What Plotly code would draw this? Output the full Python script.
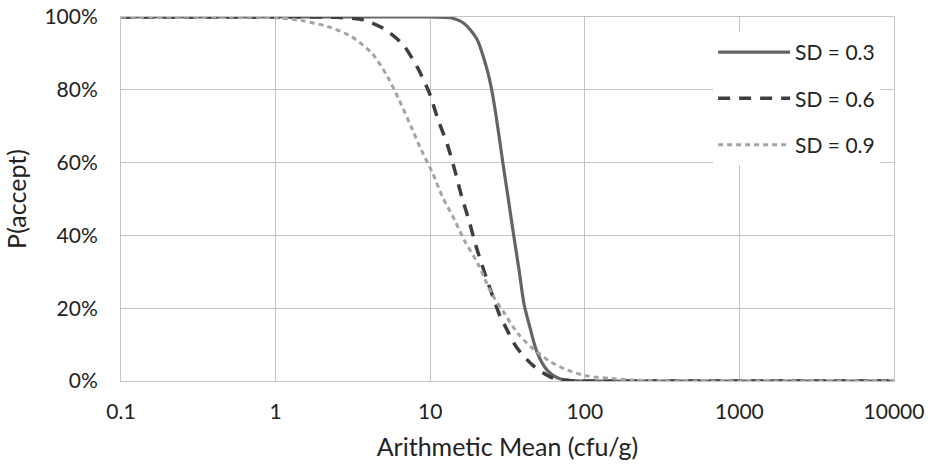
import plotly.graph_objects as go

# Arithmetic mean (cfu/g) and P(accept) in %
x_sd03 = [0.1, 1, 10, 13.5, 16.5, 20, 23, 25, 27.3, 29.5, 32, 34.7, 37.7, 40.5, 44, 49, 57, 69, 85, 100, 1000, 10000]
y_sd03 = [100, 100, 100, 99.8, 98.3, 94, 86.5, 80, 70, 60, 50, 40, 30, 21, 15, 8, 3, 0.6, 0.1, 0, 0, 0]

x_sd06 = [0.1, 1, 2.5, 3.7, 5.1, 6.7, 8.3, 9.9, 11.2, 12.9, 14.4, 16, 17.9, 19.8, 23, 26, 28.5, 30.2, 36, 47, 63, 80, 100, 1000, 10000]
y_sd06 = [100, 100, 99.9, 99.2, 96.6, 92.3, 86, 79, 72, 65, 58, 50.6, 43.8, 37, 28.5, 22, 17.5, 15.5, 9.4, 4, 0.7, 0.1, 0, 0, 0]

x_sd09 = [0.1, 0.5, 1, 1.47, 2.2, 3.1, 4.2, 5.3, 6.3, 7.5, 8.75, 10.4, 12, 14.4, 16.6, 20.3, 25, 30.2, 36.8, 44.8, 54.6, 60, 77, 103, 146, 196, 300, 1000, 10000]
y_sd09 = [100, 100, 99.8, 99, 97.3, 94.6, 90, 83.6, 77.2, 70, 63.5, 57, 50.6, 44.2, 38.7, 32.3, 24, 18.6, 13.1, 9.4, 6.5, 5.3, 3, 1.4, 0.7, 0.3, 0.05, 0, 0]

series_names = ["SD = 0.3", "SD = 0.6", "SD = 0.9"]
x_tickvals = [0.1, 1, 10, 100, 1000, 10000]
x_ticktext = ["0.1", "1", "10", "100", "1000", "10000"]
y_tickvals = [0, 20, 40, 60, 80, 100]
y_ticktext = ["0%", "20%", "40%", "60%", "80%", "100%"]

FONT = "Lato, 'Open Sans', sans-serif"
GRID = "#c4c4c4"

fig = go.Figure()
styles = [
    dict(color="#646464", width=3.2, dash="solid"),
    dict(color="#3e3e3e", width=3.5, dash="12px,9px"),
    dict(color="#a4a4a4", width=3, dash="5px,4px"),
]
for i, (xs, ys) in enumerate([(x_sd03, y_sd03), (x_sd06, y_sd06), (x_sd09, y_sd09)]):
    fig.add_trace(go.Scatter(
        x=xs, y=ys, mode="lines", name=series_names[i],
        legendgroup=f"g{i}",
        line=dict(shape="spline", smoothing=0.8, **styles[i]),
    ))

fig.update_layout(
    width=928, height=466,
    margin=dict(l=121, r=34, t=17, b=85),
    paper_bgcolor="white", plot_bgcolor="white",
    font=dict(family=FONT, size=21, color="#222"),
    legend=dict(
        x=0.766, y=0.959, xanchor="left", yanchor="top",
        bgcolor="white", borderwidth=0,
        font=dict(size=21, color="#222"),
        itemwidth=72, traceorder="grouped", tracegroupgap=16,
    ),
    xaxis=dict(
        type="log", range=[-1, 4], automargin=False,
        tickvals=x_tickvals, ticktext=x_ticktext,
        tickfont=dict(size=21),
        showgrid=True, gridcolor=GRID, gridwidth=1,
        showline=True, linecolor=GRID, mirror=True,
        ticks="", ticklabelstandoff=12, zeroline=False,
        title=dict(text="Arithmetic Mean (cfu/g)", standoff=16, font=dict(size=25)),
    ),
    yaxis=dict(
        range=[0, 100], automargin=False,
        tickvals=y_tickvals, ticktext=y_ticktext,
        tickfont=dict(size=21),
        showgrid=True, gridcolor=GRID, gridwidth=1,
        showline=True, linecolor=GRID, mirror=True,
        ticks="", ticklabelstandoff=18, zeroline=False,
        title=dict(text="P(accept)", standoff=10, font=dict(size=25)),
    ),
)

fig.write_html(
    "out.html",
    config={"displayModeBar": False},
    post_script="document.body.style.margin='0';document.body.style.overflow='hidden';",
)
